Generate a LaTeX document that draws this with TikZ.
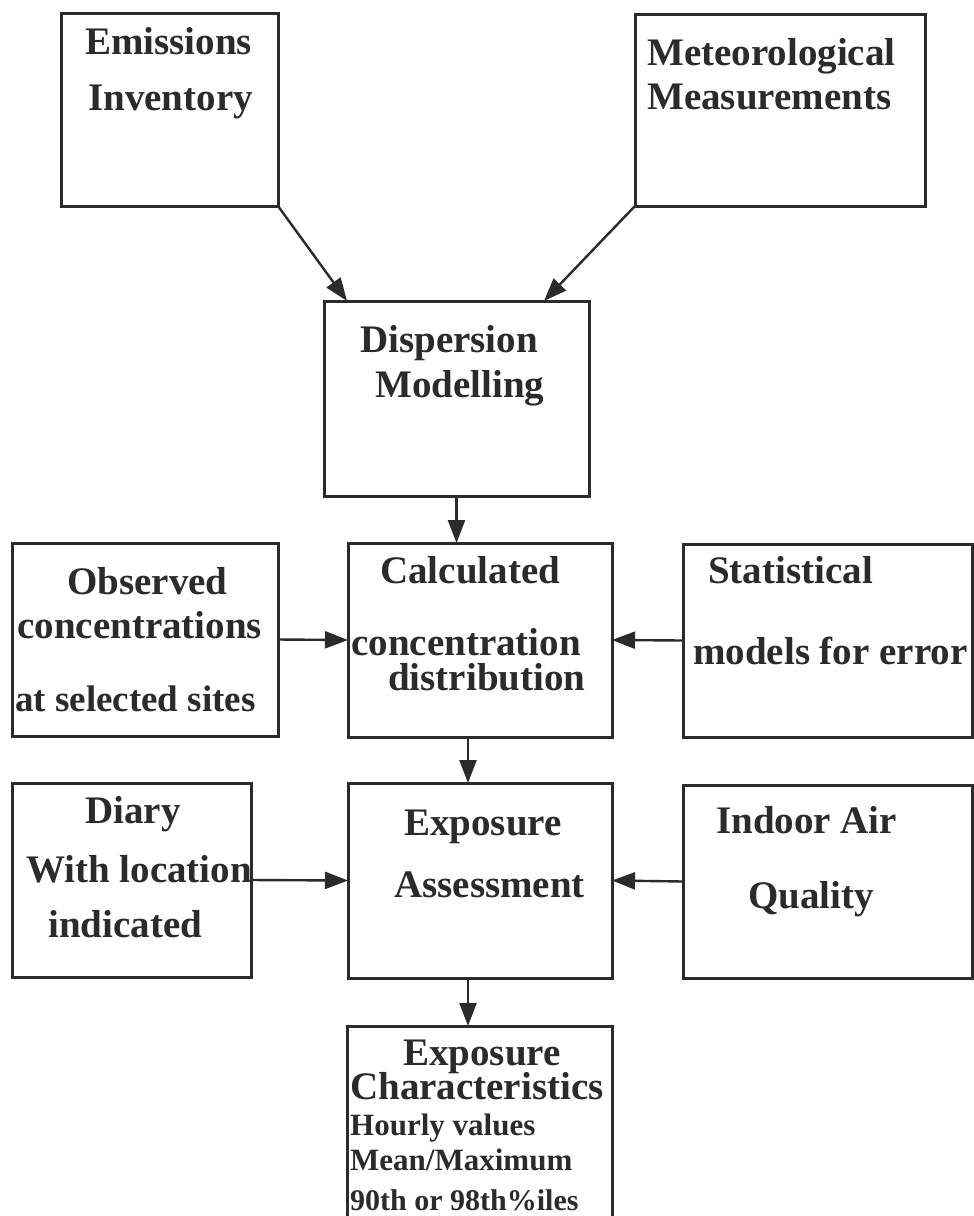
\documentclass[tikz,border=0pt]{standalone}
\usepackage{fontspec}
\setmainfont{Liberation Serif}
\usetikzlibrary{arrows.meta,calc}
\definecolor{ink}{HTML}{2B2B2B}
\begin{document}
\begin{tikzpicture}[x=1pt,y=-1pt,
  box/.style={draw=ink,line width=3pt,inner sep=0pt,outer sep=0pt},
  lbl/.style={text=ink,inner sep=0pt,anchor=base west,font=\fontsize{39}{39}\selectfont\bfseries},
  lblm/.style={lbl,font=\fontsize{37}{37}\selectfont\bfseries},
  sml/.style={lbl,font=\fontsize{31}{31}\selectfont\bfseries},
  smm/.style={lbl,font=\fontsize{30}{30}\selectfont\bfseries},
  arr/.style={draw=ink,line width=2.4pt,-{Triangle[length=23pt,width=17pt]}}]
\useasboundingbox[fill=white] (0,0) rectangle (974,1216);
% texts
\node[lbl] (t1) at (85,54) {Emissions};
\node[lbl] (t2) at (88,110) {Inventory};
\node[lbl] (t3) at (647,65) {Meteorological};
\node[lbl] (t4) at (647,109) {Measurements};
\node[lbl] (t5) at (360,352) {Dispersion};
\node[lbl] (t6) at (375,397) {Modelling};
\node[lbl] (t7) at (67,594) {Observed};
\node[lbl] (t8) at (17,638) {concentrations};
\node[lblm] (t9) at (15,711) {at selected sites};
\node[lbl] (t10) at (380,583) {Calculated};
\node[lbl] (t11) at (351,655) {concentration};
\node[lbl] (t12) at (388,690) {distribution};
\node[lbl] (t13) at (708,583) {Statistical};
\node[lbl] (t14) at (693,664) {models for error};
\node[lbl] (t15) at (85,823) {Diary};
\node[lbl] (t16) at (26,882) {With location};
\node[lbl] (t17) at (48,937) {indicated};
\node[lbl] (t18) at (404,835) {Exposure};
\node[lbl] (t19) at (394,897) {Assessment};
\node[lbl] (t20) at (716,833) {Indoor Air};
\node[lbl] (t21) at (748,908) {Quality};
\node[lbl] (t22) at (403,1065) {Exposure};
\node[lbl] (t23) at (350,1099) {Characteristics};
\node[sml] (t24) at (350,1135) {Hourly values};
\node[sml] (t25) at (350,1170) {Mean/Maximum};
\node[smm] (t26) at (350,1210) {90th or 98th\%iles};
% boxes
\node[box,minimum width=217pt,minimum height=193pt] (emis) at (169.5,109.5) {};
\node[box,minimum width=290pt,minimum height=192pt] (met) at (780,110) {};
\node[box,minimum width=265pt,minimum height=195pt] (disp) at (456.5,398.5) {};
\node[box,minimum width=266pt,minimum height=193pt] (obs) at (145,639.5) {};
\node[box,minimum width=264pt,minimum height=194pt] (calc) at (480,640) {};
\node[box,minimum width=289pt,minimum height=193pt] (stat) at (827.5,640.5) {};
\node[box,minimum width=239pt,minimum height=194pt] (diary) at (131.5,880) {};
\node[box,minimum width=264pt,minimum height=195pt] (expo) at (480,880.5) {};
\node[box,minimum width=289pt,minimum height=193pt] (indoor) at (827.5,881.5) {};
\node[box,minimum width=265pt,minimum height=204pt] (char) at (479.5,1128) {};
% arrows
\draw[arr] (emis.south east) -- ($(disp.north west)+(23,0)$);
\draw[arr] (met.south west) -- ($(disp.north east)+(-45,0)$);
\draw[arr] (disp.south) -- (disp.south |- calc.north);
\draw[arr] (obs.east) -- (calc.west);
\draw[arr] (stat.west) -- (calc.east);
\draw[arr] ([xshift=-12pt]calc.south) -- ([xshift=-12pt]expo.north);
\draw[arr] (diary.east) -- (expo.west);
\draw[arr] (indoor.west) -- (expo.east);
\draw[arr] ([xshift=-12pt]expo.south) -- ([xshift=-11.5pt]char.north);
\end{tikzpicture}
\end{document}
